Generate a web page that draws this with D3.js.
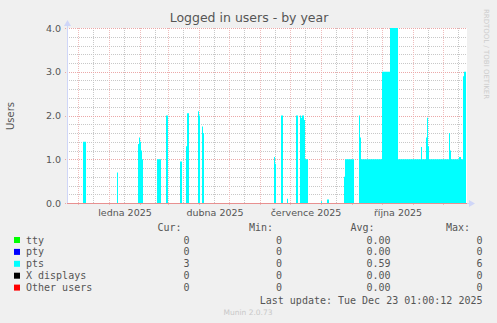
<!DOCTYPE html>
<html><head><meta charset="utf-8">
<script src="https://cdn.jsdelivr.net/npm/d3@7"></script>
<style>body{margin:0;background:#f0f0f0;overflow:hidden}svg{display:block}</style>
</head><body><svg id="c" width="497" height="323"></svg>
<script>
// ---- data ----
const ptsDates = ["2024-11-20","2024-12-06","2024-12-09","2025-01-09","2025-01-10","2025-01-30","2025-01-31","2025-02-01","2025-02-02","2025-02-03","2025-02-04","2025-02-18","2025-02-22","2025-02-27","2025-03-01","2025-03-13","2025-03-15","2025-03-19","2025-03-20","2025-03-22","2025-03-31","2025-04-01","2025-04-02","2025-04-04","2025-04-05","2025-04-06","2025-06-15","2025-06-16","2025-06-17","2025-06-22","2025-06-24","2025-06-28","2025-06-29","2025-07-07","2025-07-09","2025-07-11","2025-07-12","2025-07-13","2025-07-15","2025-07-16","2025-07-19","2025-08-01","2025-08-02","2025-08-07","2025-08-09","2025-08-24","2025-08-25","2025-09-03","2025-09-08","2025-09-09","2025-09-10","2025-10-01","2025-10-09","2025-10-17","2025-11-09","2025-11-10","2025-11-14","2025-11-15","2025-11-16","2025-11-17","2025-12-07","2025-12-08","2025-12-09","2025-12-17","2025-12-19","2025-12-21","2025-12-22","2025-12-24"];
const ptsValues = [0,1.4,0,0.7,0,1.35,1.5,1.4,1.2,1.0,0,1.0,0,2.0,0,0.95,0,1.3,2.05,0,2.1,2.0,0,1.75,1.6,0,1.05,0.9,0,2.0,0,0.1,0,2.0,0,2.0,1.95,2.0,1.9,1.0,0,0.04,0,0.08,0,0.6,1.0,0,2.0,1.5,1.0,3.0,4.0,1.0,1.28,1.0,1.5,1.95,1.3,1.0,1.6,1.2,1.0,1.05,1.0,2.9,3.0,3.0];
const yTicks = [0,1,2,3,4];
const yTickLabels = ["0.0","1.0","2.0","3.0","4.0"];
const labelMonths = ["2025-01-01","2025-04-01","2025-07-01","2025-10-01"];
const monthLabels = ["ledna 2025","dubna 2025","července 2025","října 2025"];
const legendNames = ["tty","pty","pts","X displays","Other users"];
const legendColors = ["#00ff00","#0000ff","#00ffff","#000000","#ff0000"];
const curVals = ["0","0","3","0","0"];
const minVals = ["0","0","0","0","0"];
const avgVals = ["0.00","0.00","0.59","0.00","0.00"];
const maxVals = ["0","0","6","0","0"];
const domainStart = "2024-11-20", domainEnd = "2025-12-25";

// ---- layout ----
const L = 67, R = 467, T = 28, B = 203;
const svg = d3.select("#c");
const font = "'DejaVu Sans', sans-serif";
const mono = "'DejaVu Sans Mono', monospace";

svg.append("rect").attr("width",497).attr("height",323).attr("fill","#f0f0f0");
svg.append("rect").attr("x",L).attr("y",T).attr("width",R-L).attr("height",B-T).attr("fill","#ffffff");

const x = d3.scaleUtc().domain([new Date(domainStart), new Date(domainEnd)]).range([L, R]);
const y = d3.scaleLinear().domain([0,4]).range([B, T]);

const minorCol = "#c8c8c8", majorCol = "#eba8a8", majorColV = "#efbcbc";
const g = svg.append("g");
// minor horizontal grid
d3.range(0, 4.01, 0.2).forEach(v => {
  if (Math.abs(v - Math.round(v)) < 1e-6) return;
  const yy = Math.round(y(v)) + 0.5;
  g.append("line").attr("x1",L).attr("x2",R).attr("y1",yy).attr("y2",yy)
    .attr("stroke",minorCol).attr("stroke-dasharray","1,1");
});
// minor vertical grid (mid-month)
const months = d3.utcMonth.range(new Date(domainStart), new Date(domainEnd));
months.map(d => d3.utcDay.offset(d, 15)).filter(d => d < new Date(domainEnd)).forEach(d => {
  const xx = Math.round(x(d)) + 0.5;
  g.append("line").attr("x1",xx).attr("x2",xx).attr("y1",T).attr("y2",B)
    .attr("stroke",minorCol).attr("stroke-dasharray","1,1");
});
// major vertical grid (monthly)
months.forEach(d => {
  const xx = Math.round(x(d)) + 0.5;
  g.append("line").attr("x1",xx).attr("x2",xx).attr("y1",T).attr("y2",B+3)
    .attr("stroke",majorColV).attr("stroke-dasharray","1,1");
});
// major horizontal grid
yTicks.forEach(v => {
  const yy = Math.round(y(v)) + 0.5;
  g.append("line").attr("x1",L-2).attr("x2",R).attr("y1",yy).attr("y2",yy)
    .attr("stroke",majorCol).attr("stroke-dasharray","1,1");
});

// area
const data = ptsDates.map((d,i)=>({date:new Date(d), v:ptsValues[i]}));
svg.append("path").datum(data)
  .attr("d", d3.area().x(d=>x(d.date)).y0(y(0)).y1(d=>y(d.v)).curve(d3.curveStepAfter))
  .attr("fill","#00ffff");

// axes lines
svg.append("line").attr("x1",L+0.5).attr("x2",L+0.5).attr("y1",T-4).attr("y2",B)
  .attr("stroke","#cfd6f8");
svg.append("path").attr("d",`M${L-3},${T-2} L${L+0.5},${T-8} L${L+4},${T-2} Z`).attr("fill","#cfd6f8");
svg.append("line").attr("x1",L).attr("x2",R+4).attr("y1",B+0.5).attr("y2",B+0.5)
  .attr("stroke","#cfd6f8");
svg.append("path").attr("d",`M${R+2},${B-3} L${R+8},${B+0.5} L${R+2},${B+4} Z`).attr("fill","#cfd6f8");
svg.append("line").attr("x1",L).attr("x2",R).attr("y1",B+0.5).attr("y2",B+0.5)
  .attr("stroke","#e89090");

// y labels
yTicks.forEach((v,i) => {
  svg.append("text").attr("x",61).attr("y",y(v)+3.5).attr("text-anchor","end")
    .attr("font-family",font).attr("font-size","9.5px").attr("fill","#555").text(yTickLabels[i]);
});
// x labels (centered half a month after the month start)
labelMonths.forEach((m,i) => {
  const d = new Date(m);
  const xx = x(d3.utcDay.offset(d, 16));
  svg.append("text").attr("x",xx).attr("y",216).attr("text-anchor","middle")
    .attr("font-family",font).attr("font-size","9.5px").attr("fill","#555").text(monthLabels[i]);
});

// title
svg.append("text").attr("x",249).attr("y",22).attr("text-anchor","middle")
  .attr("font-family",font).attr("font-size","12.5px").attr("fill","#555").text("Logged in users - by year");
// y axis title
svg.append("text").attr("transform","translate(14,116) rotate(-90)").attr("text-anchor","middle")
  .attr("font-family",font).attr("font-size","10px").attr("fill","#555").text("Users");
// rrdtool watermark
svg.append("text").attr("transform","translate(484,54) rotate(90)").attr("text-anchor","middle")
  .attr("font-family",font).attr("font-size","7px").attr("fill","#cccccc").text("RRDTOOL / TOBI OETIKER");

// legend
const hdrY = 231;
[["Cur:",181.5],["Min:",273],["Avg:",374.5],["Max:",470]].forEach(([t,xx]) => {
  svg.append("text").attr("x",xx).attr("y",hdrY).attr("text-anchor","end")
    .attr("font-family",mono).attr("font-size","10px").attr("fill","#555").text(t);
});
legendNames.forEach((n,i) => {
  const cy = 240 + i*11.9;
  svg.append("rect").attr("x",14).attr("y",cy-3).attr("width",6).attr("height",6).attr("fill",legendColors[i]);
  svg.append("text").attr("x",26).attr("y",cy+3.5).attr("font-family",mono).attr("font-size","10px").attr("fill","#555").text(n);
  [[curVals,189.5],[minVals,282],[avgVals,390.5],[maxVals,482.5]].forEach(([arr,xx]) => {
    svg.append("text").attr("x",xx).attr("y",cy+3.5).attr("text-anchor","end")
      .attr("font-family",mono).attr("font-size","10px").attr("fill","#555").text(arr[i]);
  });
});
svg.append("text").attr("x",482.5).attr("y",303.5).attr("text-anchor","end")
  .attr("font-family",mono).attr("font-size","10px").attr("fill","#555").text("Last update: Tue Dec 23 01:00:12 2025");
svg.append("text").attr("x",248).attr("y",314.5).attr("text-anchor","middle")
  .attr("font-family",font).attr("font-size","7.5px").attr("fill","#c8c8c8").text("Munin 2.0.73");
</script></body></html>
